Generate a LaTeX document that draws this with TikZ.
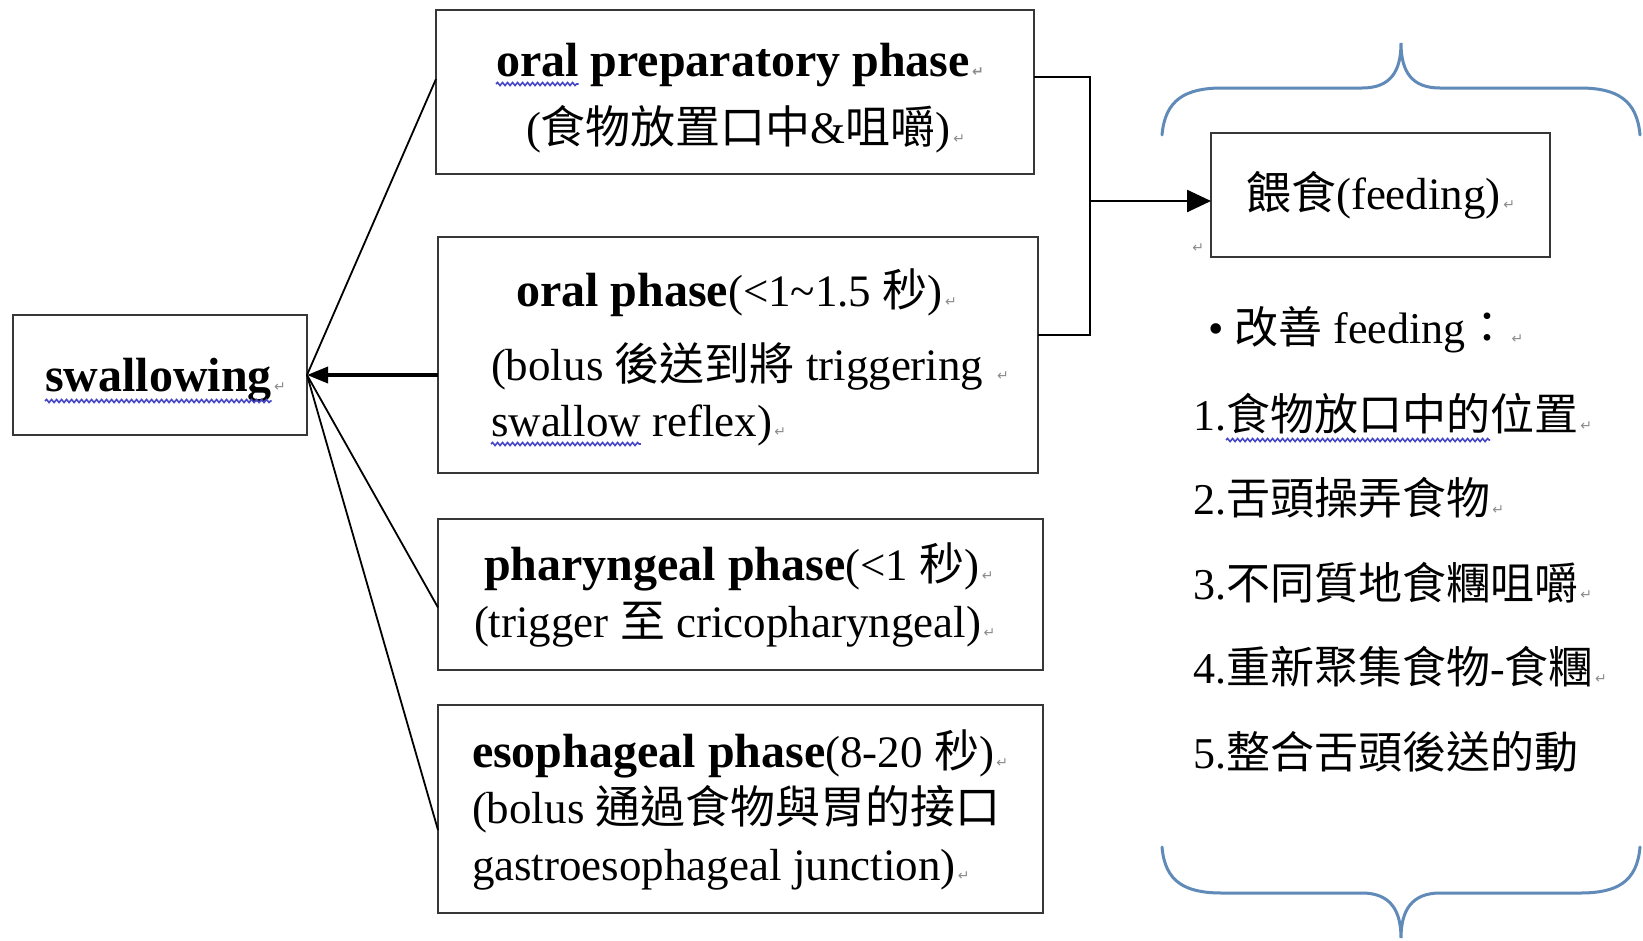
\documentclass[tikz,border=0pt]{standalone}
\usepackage{fontspec}
\setmainfont{Liberation Serif}
\newfontfamily\cjk{Noto Sans CJK TC}
\newfontfamily\arrowglyphs{DejaVu Sans}
\usetikzlibrary{arrows.meta,decorations.pathmorphing}

\definecolor{bracecol}{RGB}{96,138,184}
\definecolor{spellcol}{RGB}{70,70,200}
\definecolor{boxline}{RGB}{55,55,55}

% paragraph mark
\newcommand\retmark{{\arrowglyphs\fontsize{14}{14}\selectfont\color{black!45}\,↵}}
\newcommand\bsz{\fontsize{48}{50}\selectfont}
\newcommand\rsz{\fontsize{45}{47}\selectfont}
\newcommand\lsz{\fontsize{44}{46}\selectfont}

\begin{document}
\begin{tikzpicture}[x=1pt,y=-1pt,
  box/.style={draw=boxline, line width=2.5pt, inner sep=0pt, outer sep=0pt},
  txt/.style={anchor=base west, inner sep=0pt, outer sep=0pt},
  conn/.style={line width=1.8pt, black},
  bracket/.style={line width=2.5pt, black},
  wave/.style={draw=spellcol, line width=1.6pt,
    decorate, decoration={snake, segment length=5pt, amplitude=1.5pt}},
  brace/.style={draw=bracecol, line width=3pt, line cap=round}]
\useasboundingbox (0,0) rectangle (1643,940);
\fill[white] (0,0) rectangle (1643,940);

% boxes
\node[box, minimum width=294pt, minimum height=120pt] (sw) at (160,375) {};
\node[box, minimum width=598pt, minimum height=164pt] (op) at (735,92) {};
\node[box, minimum width=600pt, minimum height=236pt] (orl) at (738,355) {};
\node[box, minimum width=605pt, minimum height=151pt] (phr) at (740.5,594.5) {};
\node[box, minimum width=605pt, minimum height=208pt] (eso) at (740.5,809) {};
\node[box, minimum width=339pt, minimum height=124pt] (fd) at (1380.5,195)
  {\rsz{\cjk 餵食}(feeding)\retmark};

% box texts
\node[txt] (swt) at (45,391) {\bsz\bfseries swallowing};
\node[txt] (swm) at (swt.base east) {\retmark};

\node[txt] (opw) at (496,76) {\bsz\bfseries oral};
\node[txt] (op1) at (opw.base east) {\bsz\bfseries\ preparatory phase\retmark};
\node[txt] (op2) at (526,143) {\rsz({\cjk 食物放置口中}\&{\cjk 咀嚼})\retmark};

\node[txt] (orl1) at (516,306) {{\bsz\bfseries oral phase}\rsz(<1\textasciitilde 1.5 {\cjk 秒})\retmark};
\node[txt] (orl2) at (491,380) {\rsz(bolus {\cjk 後送到將} triggering \retmark};
\node[txt] (orlw) at (491,436) {\rsz swallow};
\node[txt] (orl3) at (orlw.base east) {\rsz\ reflex)\retmark};

\node[txt] (phr1) at (484,580) {{\bsz\bfseries pharyngeal phase}\rsz(<1 {\cjk 秒})\retmark};
\node[txt] (phr2) at (474,637) {\rsz(trigger {\cjk 至} cricopharyngeal)\retmark};

\node[txt] (eso1) at (472,767) {{\bsz\bfseries esophageal phase}\rsz(8-20 {\cjk 秒})\retmark};
\node[txt] (eso2) at (472,823) {\rsz(bolus {\cjk 通過食物與胃的接口}};
\node[txt] (eso3) at (472,880) {\rsz gastroesophageal junction)\retmark};

\node[txt] (fdmark) at (1190,252) {\retmark};

% feeding notes
\node[txt] (l0) at (1208,343) {\lsz\textbullet\ {\cjk 改善} feeding{\cjk ：}\retmark};
\node[txt] (l1n) at (1193,430) {\lsz 1.};
\node[txt] (l1w) at (l1n.base east) {\lsz\cjk 食物放口中的};
\node[txt] (l1) at (l1w.base east) {\lsz{\cjk 位置}\retmark};
\node[txt] (l2) at (1193,514.5) {\lsz 2.{\cjk 舌頭操弄食物}\retmark};
\node[txt] (l3) at (1193,599) {\lsz 3.{\cjk 不同質地食糰咀嚼}\retmark};
\node[txt] (l4) at (1193,683.5) {\lsz 4.{\cjk 重新聚集食物}-{\cjk 食糰}\retmark};
\node[txt] (l5) at (1193,768) {\lsz 5.{\cjk 整合舌頭後送的動}};

% spelling underlines
\draw[wave] ([yshift=-10pt]swt.base west) -- ([yshift=-10pt]swt.base east);
\draw[wave] ([yshift=-8pt]opw.base west) -- ([yshift=-8pt]opw.base east);
\draw[wave] ([yshift=-8pt]orlw.base west) -- ([yshift=-8pt]orlw.base east);
\draw[wave] ([yshift=-10pt]l1w.base west) -- ([yshift=-10pt]l1w.base east);

% fan of phases into swallowing
\draw[conn] (sw.east) -- ([yshift=13pt]op.west);
\draw[conn, line width=3.5pt, -{Triangle[length=21pt,width=16pt]}] (orl.west |- sw.east) -- (sw.east);
\draw[conn] (sw.east) -- ([yshift=-13pt]phr.west);
\draw[conn] (sw.east) -- ([yshift=-21pt]eso.west);

% bracket joining the two oral phases, arrow to feeding
\coordinate (jn) at (1090,201);
\draw[bracket] ([yshift=15pt]op.east) -| (jn) |- ([yshift=20pt]orl.east);
\draw[bracket, -{Triangle[length=24pt,width=22pt]}] (jn) -- (jn -| fd.west);

% curly braces around the feeding notes
\draw[brace] (1162,135) .. controls (1165,100) and (1185,88) .. (1222,88) -- (1362,88)
  .. controls (1390,88) and (1401,72) .. (1401,43)
  .. controls (1401,72) and (1412,88) .. (1440,88) -- (1580,88)
  .. controls (1617,88) and (1637,100) .. (1640,135);
\draw[brace] (1162,847) .. controls (1165,882) and (1185,893) .. (1222,893) -- (1362,893)
  .. controls (1390,893) and (1401,910) .. (1401,938)
  .. controls (1401,910) and (1412,893) .. (1440,893) -- (1580,893)
  .. controls (1617,893) and (1637,882) .. (1640,847);
\end{tikzpicture}
\end{document}
